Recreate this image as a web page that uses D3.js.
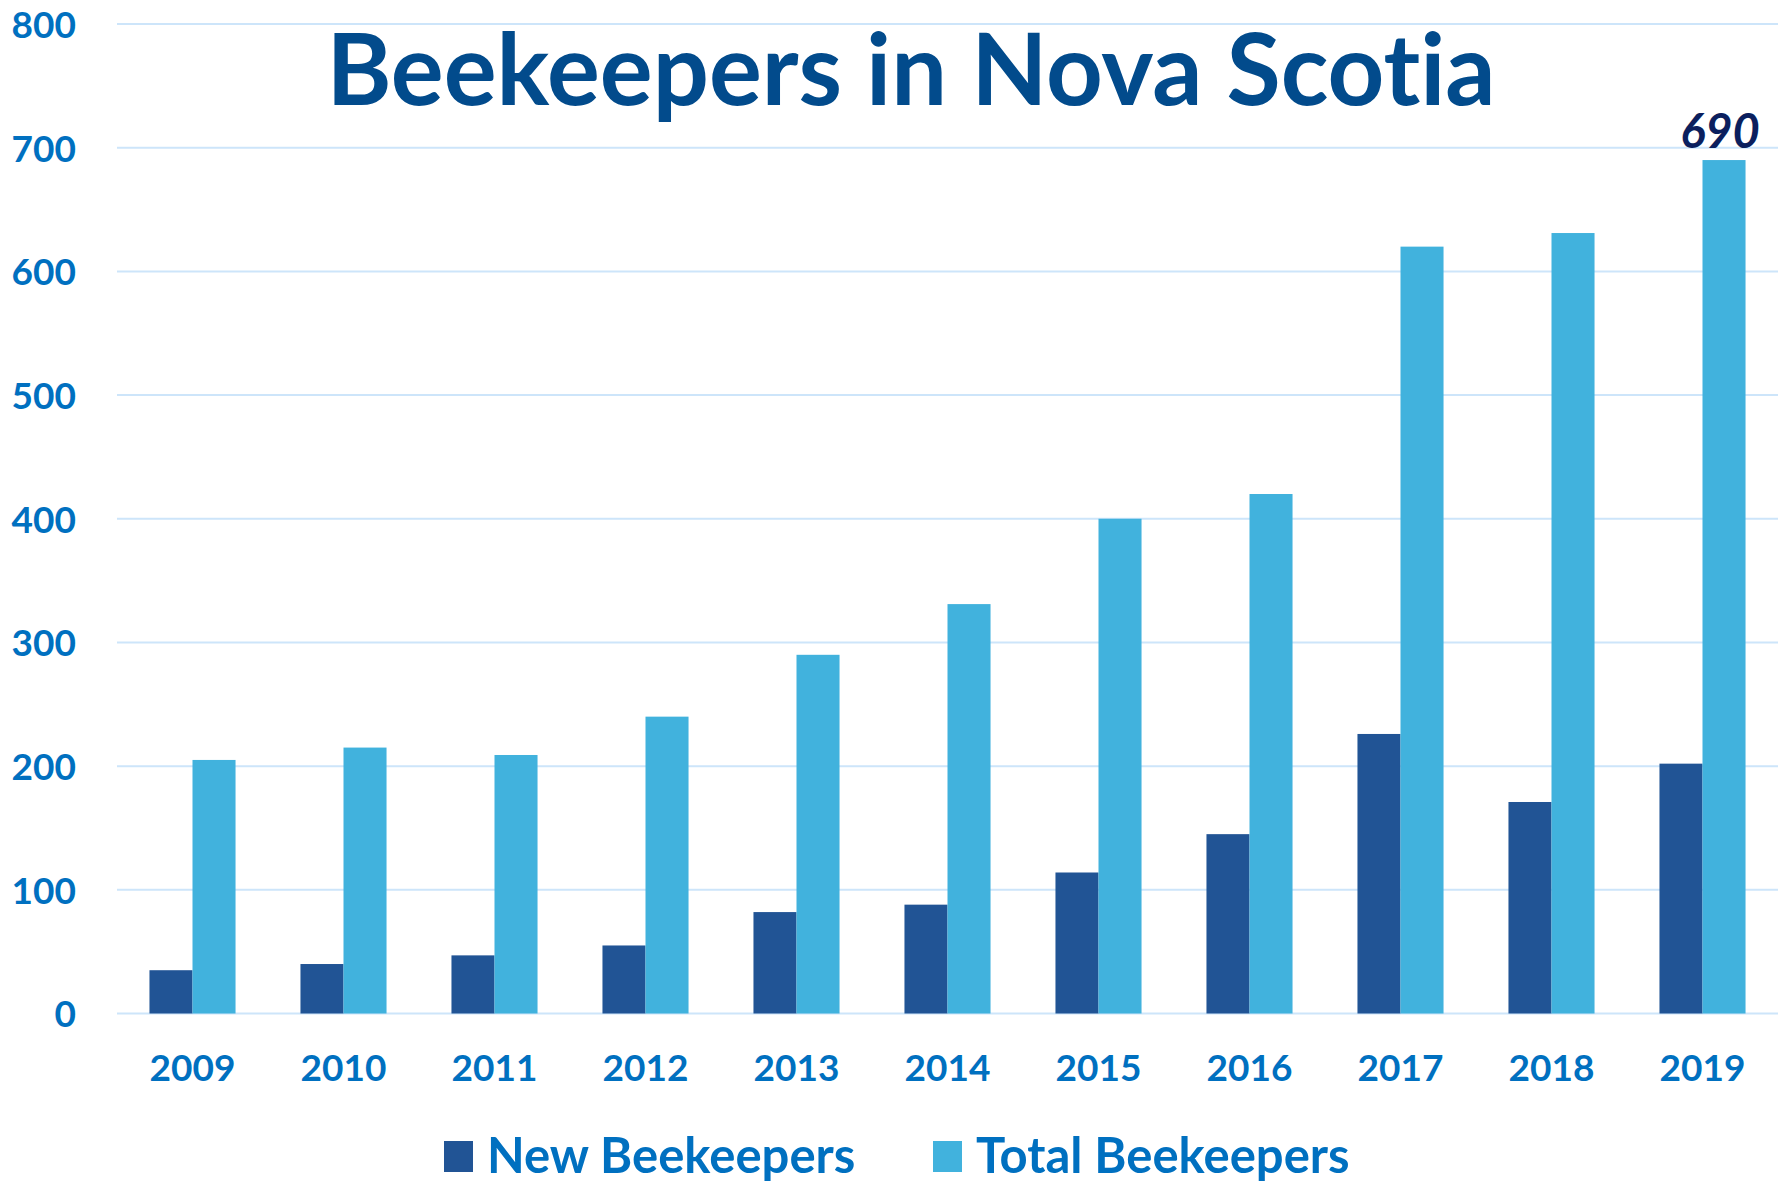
<!DOCTYPE html>
<html>
<head>
<meta charset="utf-8">
<script src="https://cdn.jsdelivr.net/npm/d3@7"></script>
<style>
  body { margin: 0; background: #fff; }
  text { font-family: Lato, "Open Sans", sans-serif; font-weight: 700; font-variant-ligatures: none; }
</style>
</head>
<body>
<div id="viz"></div>
<script>
// Width and height
var w = 1785;
var h = 1184;

// data
var years = ["2009", "2010", "2011", "2012", "2013", "2014", "2015", "2016", "2017", "2018", "2019"];
var newBeekeepers = [35, 40, 47, 55, 82, 88, 114, 145, 226, 171, 202];
var totalBeekeepers = [205, 215, 209, 240, 290, 331, 400, 420, 620, 631, 690];
var seriesNames = ["New Beekeepers", "Total Beekeepers"];
var yTicks = [0, 100, 200, 300, 400, 500, 600, 700, 800];

var color = d3.scaleOrdinal()
    .domain(seriesNames)
    .range(["#215495", "#41b2dd"]);

var margin = {left: 117, right: 7, top: 24, bottom: 170};

var x = d3.scaleBand()
    .domain(years)
    .range([margin.left, w - margin.right])
    .paddingInner(0.43)
    .paddingOuter(0.215);

var xInner = d3.scaleBand()
    .domain(seriesNames)
    .range([0, x.bandwidth()]);

var y = d3.scaleLinear()
    .domain([0, 800])
    .range([1013.5, margin.top]);

var svg = d3.select("#viz")
    .append("svg")
    .attr("width", w)
    .attr("height", h);

// gridlines
svg.append("g")
    .selectAll("line")
    .data(yTicks)
    .enter()
    .append("line")
    .attr("x1", margin.left)
    .attr("x2", w - margin.right)
    .attr("y1", function(d) { return y(d); })
    .attr("y2", function(d) { return y(d); })
    .attr("stroke", "#cde5fa")
    .attr("stroke-width", 2);

// y axis labels
var yAxis = d3.axisLeft(y).tickValues(yTicks).tickSize(0).tickPadding(0);
svg.append("g")
    .attr("transform", "translate(76,0)")
    .call(yAxis)
    .call(function(g) { g.select(".domain").remove(); })
    .selectAll("text")
    .attr("fill", "#0070c0")
    .attr("font-size", 37)
    .attr("font-family", "Lato, sans-serif")
    .attr("font-weight", 700)
    .attr("dy", "0.36em");

// x axis labels
var xAxis = d3.axisBottom(x).tickSize(0).tickPadding(0);
svg.append("g")
    .attr("transform", "translate(0,1081)")
    .call(xAxis)
    .call(function(g) { g.select(".domain").remove(); })
    .selectAll("text")
    .attr("fill", "#0070c0")
    .attr("font-size", 37)
    .attr("font-family", "Lato, sans-serif")
    .attr("font-weight", 700)
    .attr("dy", 0);

// bars
var rows = years.map(function(yr, i) {
    return {year: yr, values: [
        {key: seriesNames[0], value: newBeekeepers[i]},
        {key: seriesNames[1], value: totalBeekeepers[i]}
    ]};
});

var groups = svg.selectAll("g.year")
    .data(rows)
    .enter()
    .append("g")
    .attr("class", "year")
    .attr("transform", function(d) { return "translate(" + x(d.year) + ",0)"; });

groups.selectAll("rect")
    .data(function(d) { return d.values; })
    .enter()
    .append("rect")
    .attr("x", function(d) { return xInner(d.key); })
    .attr("width", xInner.bandwidth())
    .attr("y", function(d) { return y(d.value); })
    .attr("height", function(d) { return y(0) - y(d.value); })
    .attr("fill", function(d) { return color(d.key); });

// label on last total bar
var last = years.length - 1;
svg.append("text")
    .attr("x", x(years[last]) + xInner(seriesNames[1]) + xInner.bandwidth() / 2 - 4)
    .attr("y", y(totalBeekeepers[last]) - 12)
    .attr("text-anchor", "middle")
    .attr("font-size", 47)
    .attr("font-style", "italic")
    .attr("font-weight", 900)
    .attr("fill", "#0b1f5e")
    .text(totalBeekeepers[last]);

// title
svg.append("text")
    .attr("x", 911)
    .attr("y", 105)
    .attr("text-anchor", "middle")
    .attr("font-size", 99)
    .attr("fill", "#024b8c")
    .text("Beekeepers in Nova Scotia");

// legend
var legendItems = [
    {name: seriesNames[0], x: 444},
    {name: seriesNames[1], x: 933}
];
var lg = svg.selectAll("g.legend")
    .data(legendItems)
    .enter()
    .append("g")
    .attr("class", "legend")
    .attr("transform", function(d) { return "translate(" + d.x + ",1141)"; });

lg.append("rect")
    .attr("width", 29)
    .attr("height", 31)
    .attr("fill", function(d) { return color(d.name); });

lg.append("text")
    .attr("x", 43)
    .attr("y", 32)
    .attr("font-size", 49)
    .attr("fill", "#0070c0")
    .text(function(d) { return d.name; });
</script>
</body>
</html>
